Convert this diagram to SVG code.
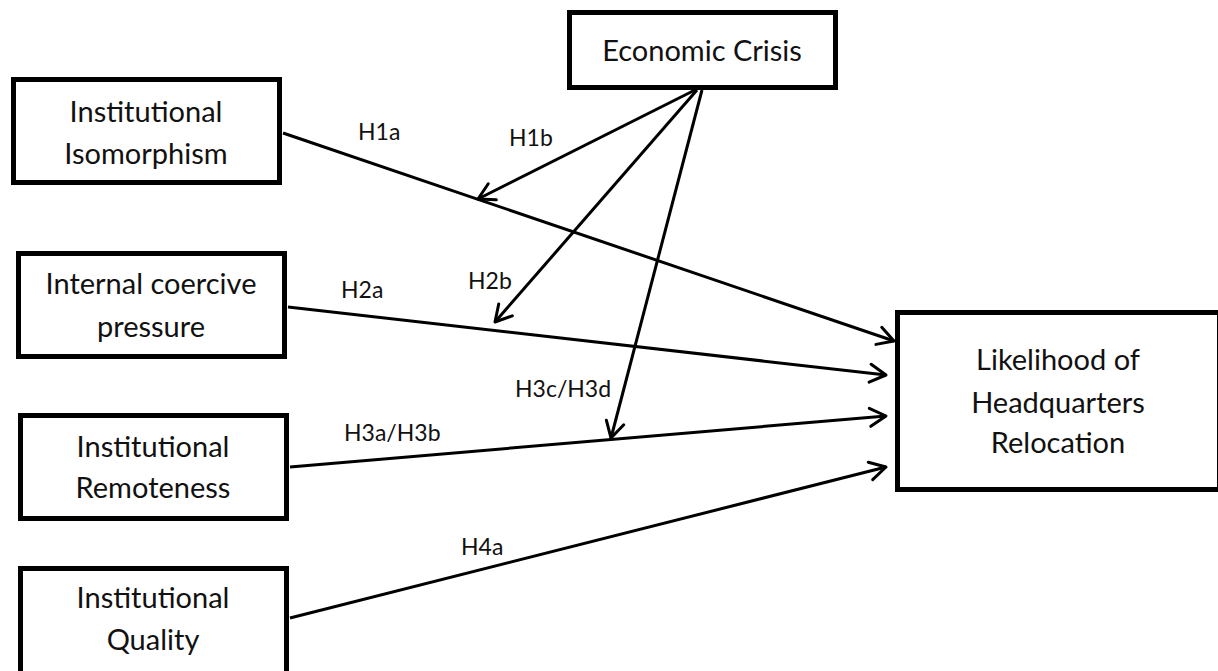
<svg xmlns="http://www.w3.org/2000/svg" width="1218" height="671" viewBox="0 0 1218 671">
<style>
.box{fill:#fff;stroke:#000;stroke-width:5}
.nt{font-family:Lato,"Open Sans","Liberation Sans",sans-serif;font-size:29px;fill:#111;text-anchor:middle}
.lb{font-family:Lato,"Open Sans","Liberation Sans",sans-serif;font-size:23px;fill:#111}
.cn{stroke:#000;stroke-width:3;fill:none;marker-end:url(#arr)}
</style>
<defs>
<marker id="arr" markerUnits="userSpaceOnUse" markerWidth="24" markerHeight="24" viewBox="-20 -12 24 24" refX="0" refY="0" orient="auto">
<path d="M-16,-9 L0,0 L-16,9" fill="none" stroke="#000" stroke-width="3" stroke-linecap="round" stroke-linejoin="round"/>
</marker>
</defs>
<rect width="1218" height="671" fill="#fff"/>
<g id="node-isomorphism">
<rect class="box" x="13.5" y="79.5" width="266" height="103"/>
<text class="nt" x="146" y="122">Institutional</text>
<text class="nt" x="146" y="164">Isomorphism</text>
</g>
<g id="node-crisis">
<rect class="box" x="569.5" y="12.5" width="266" height="75"/>
<text class="nt" x="702" y="61">Economic Crisis</text>
</g>
<g id="node-coercive">
<rect class="box" x="18.5" y="253.5" width="266" height="103"/>
<text class="nt" x="151" y="294">Internal coercive</text>
<text class="nt" x="151" y="337">pressure</text>
</g>
<g id="node-remoteness">
<rect class="box" x="20.5" y="415.5" width="266" height="103"/>
<text class="nt" x="153" y="457">Institutional</text>
<text class="nt" x="153" y="498">Remoteness</text>
</g>
<g id="node-quality">
<rect class="box" x="20.5" y="568.5" width="266" height="120"/>
<text class="nt" x="153" y="608">Institutional</text>
<text class="nt" x="153" y="650">Quality</text>
</g>
<g id="node-likelihood">
<rect class="box" x="897.5" y="312.5" width="322" height="177"/>
<text class="nt" x="1058" y="370">Likelihood of</text>
<text class="nt" x="1058" y="413">Headquarters</text>
<text class="nt" x="1058" y="453">Relocation</text>
</g>
<g id="connectors">
<line class="cn" x1="283" y1="133" x2="894" y2="341"/>
<line class="cn" x1="288" y1="307" x2="886" y2="375"/>
<line class="cn" x1="290" y1="467" x2="886" y2="416"/>
<line class="cn" x1="290" y1="618" x2="886" y2="467"/>
<line class="cn" x1="695" y1="90" x2="478" y2="199"/>
<line class="cn" x1="697" y1="90" x2="495" y2="322"/>
<line class="cn" x1="702" y1="90" x2="611" y2="438"/>
</g>
<g id="labels">
<text class="lb" x="358" y="140">H1a</text>
<text class="lb" x="509" y="146">H1b</text>
<text class="lb" x="341" y="298">H2a</text>
<text class="lb" x="468" y="289">H2b</text>
<text class="lb" x="515" y="397">H3c/H3d</text>
<text class="lb" x="344" y="441">H3a/H3b</text>
<text class="lb" x="461" y="555">H4a</text>
</g>
</svg>
